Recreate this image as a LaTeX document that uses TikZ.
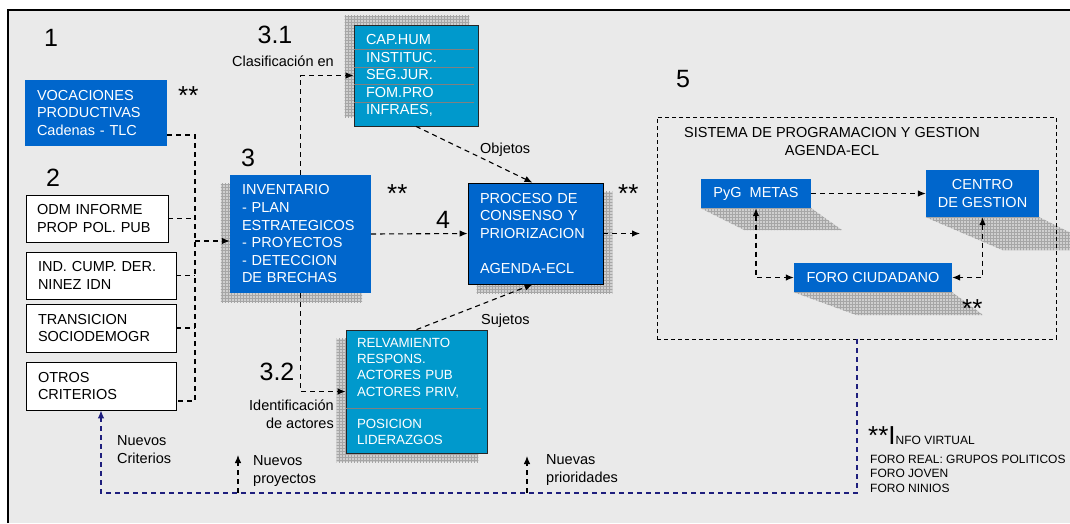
\documentclass[tikz,border=0pt]{standalone}
\usepackage{fontspec}
\setmainfont{Liberation Sans}
\usetikzlibrary{patterns,backgrounds,arrows.meta}
\definecolor{boxblue}{RGB}{0,102,204}
\definecolor{boxteal}{RGB}{0,153,204}
\definecolor{panel}{RGB}{234,234,234}
\definecolor{navyline}{RGB}{30,30,125}
\newcommand{\boxfont}{\fontsize{14.5}{17.6}\selectfont}
\tikzset{
  >={Latex[length=8pt,width=6.5pt]},
  every node/.style={inner sep=0pt},
  bluebox/.style={fill=boxblue, text=white, font=\boxfont, align=left},
  tealbox/.style={fill=boxteal, draw=black!85, line width=0.8pt, text=white, font=\boxfont, align=left},
  whitebox/.style={fill=white, draw=black, line width=0.8pt, font=\boxfont, align=left},
  dline/.style={dash pattern=on 5pt off 4pt, line width=1.1pt},
  darrow/.style={dline, ->},
  hatchshadow/.style={fill=gray!38, postaction={pattern=grid, pattern color=gray!70}},
  sepline/.style={gray, line width=0.8pt},
  bignum/.style={font=\fontsize{25}{25}\selectfont},
  stars/.style={font=\fontsize{26}{26}\selectfont},
  lbl/.style={font=\boxfont, align=left},
}

\begin{document}
\begin{tikzpicture}[x=1pt,y=-1pt]
  \useasboundingbox (0,0) rectangle (1070,523);

  % boxes
  \node[bluebox, minimum height=66pt, text width=118pt, inner xsep=12pt] (voc) at (96,113) {VOCACIONES\\PRODUCTIVAS\\Cadenas - TLC};
  \node[whitebox, minimum height=47pt, text width=120pt, inner xsep=11pt] (odm) at (97,218.5) {ODM INFORME\\PROP POL. PUB};
  \node[whitebox, minimum height=47pt, text width=126pt, inner xsep=12pt] (ind) at (101,275.5) {IND. CUMP. DER.\\NINEZ IDN};
  \node[whitebox, minimum height=48pt, text width=126pt, inner xsep=12pt] (trans) at (101,328) {TRANSICION\\SOCIODEMOGR};
  \node[whitebox, minimum height=48pt, text width=126pt, inner xsep=12pt] (otros) at (101,386) {OTROS\\CRITERIOS};
  \node[bluebox, minimum height=118pt, text width=117pt, inner xsep=12pt] (inv) at (300.5,234) {INVENTARIO\\- PLAN\\ESTRATEGICOS\\- PROYECTOS\\- DETECCION\\DE BRECHAS};
  \node[tealbox, minimum height=101pt, text width=100pt, inner xsep=12pt] (cap) at (416,75.5) {CAP.HUM\\INSTITUC.\\SEG.JUR.\\FOM.PRO\\INFRAES,};
  \node[bluebox, draw=black, line width=0.8pt, minimum height=101pt, text width=111pt, inner xsep=12pt] (proc) at (535.5,233.5) {PROCESO DE\\CONSENSO Y\\PRIORIZACION\\[17.6pt]AGENDA-ECL};
  \node[tealbox, font=\fontsize{13.3}{16.2}\selectfont, minimum height=123pt, text width=119pt, inner xsep=11pt] (relv) at (416.5,391.5) {RELVAMIENTO\\RESPONS.\\ACTORES PUB\\ACTORES PRIV,\\[16.2pt]POSICION\\LIDERAZGOS};
  \foreach \yy in {49,67,84,102}
    \draw[sepline] (cap.west |- 0,\yy) -- ([xshift=-4pt]cap.east |- 0,\yy);
  \draw[sepline] (relv.west |- 0,408) -- ([xshift=-6pt]relv.east |- 0,408);

  % section 5
  \node[draw, dash pattern=on 4pt off 3pt, line width=0.9pt, minimum width=399pt, minimum height=222pt] (sec5) at (856.5,228) {};
  \node[lbl, align=center, anchor=base] (title) at (832,155) {SISTEMA DE PROGRAMACION Y GESTION\\AGENDA-ECL};
  \node[bluebox, align=center, minimum width=110pt, minimum height=29pt] (pyg) at (756,193.5) {PyG\ \ METAS};
  \node[bluebox, align=center, minimum width=113pt, minimum height=47pt] (centro) at (982.5,193.5) {CENTRO\\DE GESTION};
  \node[bluebox, align=center, minimum width=158pt, minimum height=29pt] (foro) at (873,277.5) {FORO CIUDADANO};

  % numbers and labels
  \node[bignum, anchor=base] (num1) at (51,46) {1};
  \node[bignum, anchor=base] (num2) at (53,186) {2};
  \node[bignum, anchor=base] (num3) at (248,166) {3};
  \node[bignum, anchor=base] (num31) at (275,43) {3.1};
  \node[bignum, anchor=base] (num4) at (443,228) {4};
  \node[bignum, anchor=base] (num32) at (277,380) {3.2};
  \node[bignum, anchor=base] (num5) at (683,87) {5};
  \node[stars, anchor=base west] (starvoc) at (178,104) {**};
  \node[stars, anchor=base west] (starinv) at (387,202) {**};
  \node[stars, anchor=base west] (starproc) at (618,202) {**};
  \node[stars, anchor=base west] (starforo) at (962,317) {**};
  \node[lbl, anchor=base west] (clasif) at (232,66) {Clasificación en};
  \node[lbl, anchor=base west] (objetos) at (480,153) {Objetos};
  \node[lbl, align=right, anchor=base east] (ident) at (334,428) {Identificación\\de actores};
  \node[lbl, anchor=base west] (sujetos) at (481,324) {Sujetos};
  \node[lbl, anchor=base west] (nuevcrit) at (117,463) {Nuevos\\Criterios};
  \node[lbl, anchor=base west] (nuevproy) at (253,483) {Nuevos\\proyectos};
  \node[lbl, anchor=base west] (nuevprior) at (546,482) {Nuevas\\prioridades};
  \node[anchor=base west] (info) at (868,444) {\fontsize{26}{26}\selectfont **I\fontsize{12}{12}\selectfont NFO VIRTUAL};
  \node[align=left, anchor=base west, font=\fontsize{12}{14.5}\selectfont] (foros) at (870,492) {FORO REAL: GRUPOS POLITICOS\\FORO JOVEN\\FORO NINIOS};

  % connectors
  \coordinate (bustop) at (195,135);
  \coordinate (busbot) at (195,401);
  \draw[dline] (voc.east |- bustop) -- (bustop) -- (busbot) -- (otros.east |- busbot);
  \foreach \b in {odm,ind,trans}
    \draw[dline] (\b.east) -- (\b.east -| bustop);
  \draw[darrow] ([yshift=-7pt]inv.west -| bustop) -- ([yshift=-7pt]inv.west);
  \draw[darrow] (inv.north) |- (cap.west);
  \draw[darrow] (inv.south) |- (relv.west);
  \draw[darrow] (inv.east) -- (proc.west);
  \coordinate (procout) at (640,233.5);
  \draw[darrow] (proc.east) -- (procout);
  \draw[darrow] (cap.south) -- ([xshift=-3pt]proc.north);
  \draw[darrow] (relv.north) -- ([xshift=-3pt]proc.south);
  \draw[darrow] (pyg.east) -- (centro.west);
  \draw[dline, <->] (pyg.south) |- (foro.west);
  \draw[dline, <->] (centro.south) |- (foro.east);
  \coordinate (fbk) at (857,493);
  \draw[darrow, navyline] (sec5.south -| fbk) -- (fbk) -| (otros.south);
  \coordinate (proyfoot) at (238,493);
  \coordinate (proytip) at (238,455);
  \draw[darrow] (proyfoot) -- (proytip);
  \coordinate (priorfoot) at (527,493);
  \coordinate (priortip) at (527,456);
  \draw[darrow] (priorfoot) -- (priortip);

  % panel and shadows
  \begin{pgfonlayer}{background}
    \fill[panel] (8,10) rectangle (1070,523);
    \draw[line width=1.3pt] (8,523) -- (8,10) -- (1070,10);
    \fill[hatchshadow] ([shift={(-9,9)}]inv.south west) rectangle ([shift={(-9,9)}]inv.north east);
    \fill[hatchshadow] ([shift={(-9,-9)}]cap.south west) rectangle ([shift={(-9,-9)}]cap.north east);
    \fill[hatchshadow] ([shift={(9,9)}]proc.south west) rectangle ([shift={(9,9)}]proc.north east);
    \fill[hatchshadow] ([shift={(-9,9)}]relv.south west) rectangle ([shift={(-9,9)}]relv.north east);
    \fill[hatchshadow] (pyg.south west) -- (pyg.south east) -- ++(31,22) -- ([shift={(44,22)}]pyg.south west) -- cycle;
    \fill[hatchshadow] (centro.south west) -- (centro.south east) -- ++(66,33) -- ([shift={(77,33)}]centro.south west) -- cycle;
    \fill[hatchshadow] (foro.south west) -- (foro.south east) -- ++(31,23) -- ([shift={(63,23)}]foro.south west) -- cycle;
  \end{pgfonlayer}
\end{tikzpicture}
\end{document}
